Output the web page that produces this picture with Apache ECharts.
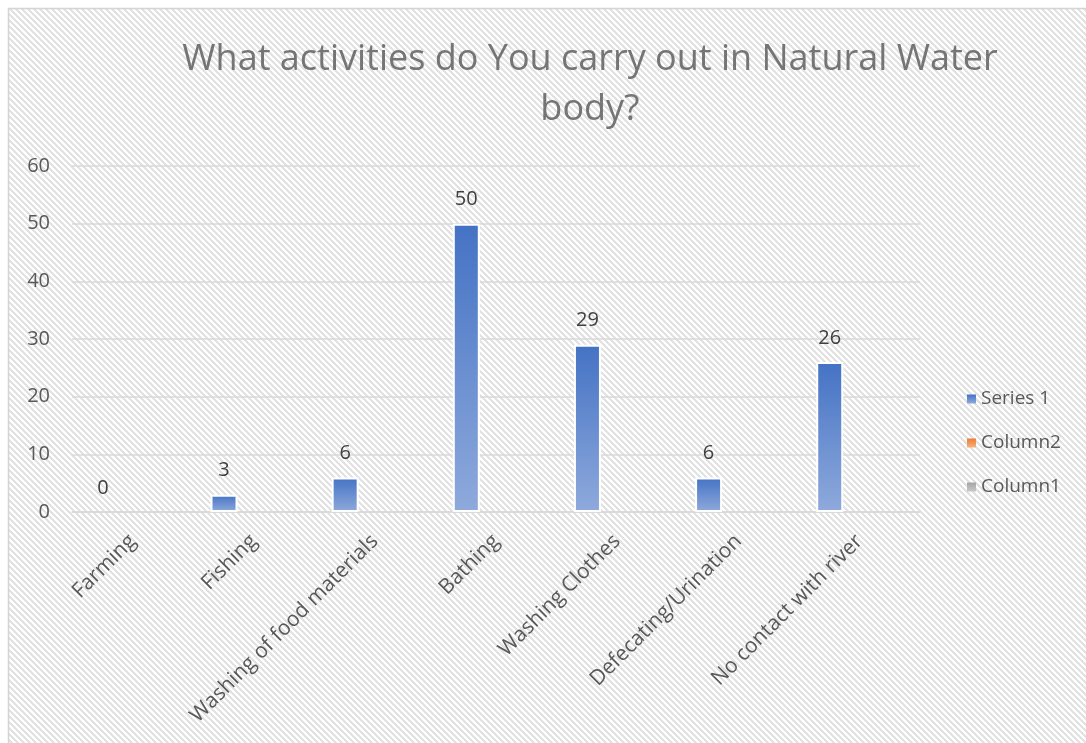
<!DOCTYPE html>
<html>
<head>
<meta charset="utf-8">
<script src="https://cdn.jsdelivr.net/npm/echarts@6/dist/echarts.min.js"></script>
<style>
  html, body { margin: 0; padding: 0; background: #ffffff; }
  #chart { width: 1086px; height: 743px; }
</style>
</head>
<body>
<div id="chart"></div>
<script>
// Chart content
const titleText = 'What activities do You carry out in Natural Water\nbody?';
const categories = [
  'Farming',
  'Fishing',
  'Washing of food materials',
  'Bathing',
  'Washing Clothes',
  'Defecating/Urination',
  'No contact with river'
];
const series1 = [0, 3, 6, 50, 29, 6, 26];
const column2 = [null, null, null, null, null, null, null];
const column1 = [null, null, null, null, null, null, null];
const seriesNames = ['Series 1', 'Column2', 'Column1'];
const yMin = 0, yMax = 60, yStep = 10;

const FONT = "'Open Sans', 'Noto Sans', sans-serif";

// Small tile for the diagonal hatch fill of the chart area
function hatchTile() {
  const size = 6;
  const c = document.createElement('canvas');
  c.width = size; c.height = size;
  const ctx = c.getContext('2d');
  ctx.fillStyle = '#ffffff';
  ctx.fillRect(0, 0, size, size);
  ctx.fillStyle = '#e2e2e2';
  for (let y = 0; y < size; y++) {
    for (let x = 0; x < size; x++) {
      if ((((x - y) % size) + size) % size < 3) ctx.fillRect(x, y, 1, 1);
    }
  }
  return c;
}

function vGrad(top, bottom) {
  return new echarts.graphic.LinearGradient(0, 0, 0, 1, [
    { offset: 0, color: top },
    { offset: 1, color: bottom }
  ]);
}

// A zero-height bar gets no white outline
function withoutZeroOutline(values) {
  return values.map(v => (v === 0 ? { value: v, itemStyle: { borderWidth: 0 } } : v));
}

const chart = echarts.init(document.getElementById('chart'), null, { renderer: 'canvas' });

const barBase = {
  type: 'bar',
  barWidth: 27,
  barGap: '10%'
};

chart.setOption({
  animation: false,
  backgroundColor: { image: hatchTile(), repeat: 'repeat' },
  textStyle: { fontFamily: FONT },
  title: {
    text: titleText,
    left: 585,
    top: 30,
    textAlign: 'center',
    textStyle: {
      fontFamily: FONT,
      fontSize: 36,
      fontWeight: 'normal',
      color: '#757575',
      lineHeight: 50
    }
  },
  legend: {
    orient: 'vertical',
    left: 962,
    top: 384,
    icon: 'rect',
    itemWidth: 9,
    itemHeight: 9,
    itemGap: 24,
    itemStyle: { borderWidth: 0 },
    textStyle: { fontFamily: FONT, fontSize: 19, color: '#595959', lineHeight: 20 },
    data: seriesNames
  },
  grid: { left: 72, right: 166, top: 166, bottom: 231 },
  xAxis: {
    type: 'category',
    data: categories,
    axisLine: { lineStyle: { color: '#d9d9d9', width: 1.5 } },
    axisTick: { show: false },
    axisLabel: {
      interval: 0,
      rotate: 45,
      margin: 26,
      fontFamily: FONT,
      fontSize: 21,
      color: '#595959'
    }
  },
  yAxis: {
    type: 'value',
    min: yMin,
    max: yMax,
    interval: yStep,
    axisLine: { show: false },
    axisTick: { show: false },
    splitLine: { lineStyle: { color: '#d9d9d9', width: 1.5 } },
    axisLabel: { margin: 22, fontFamily: FONT, fontSize: 20, color: '#595959' }
  },
  series: [
    Object.assign({}, barBase, {
      name: seriesNames[0],
      data: withoutZeroOutline(series1),
      itemStyle: { color: vGrad('#4472c4', '#8faadc'), borderColor: '#ffffff', borderWidth: 2 },
      label: {
        show: true,
        position: 'top',
        distance: 14,
        fontFamily: FONT,
        fontSize: 20,
        color: '#404040'
      }
    }),
    Object.assign({}, barBase, {
      name: seriesNames[1],
      data: column2,
      itemStyle: { color: vGrad('#ed7d31', '#f4b183'), borderColor: '#ffffff', borderWidth: 2 }
    }),
    Object.assign({}, barBase, {
      name: seriesNames[2],
      data: column1,
      itemStyle: { color: vGrad('#a5a5a5', '#c9c9c9'), borderColor: '#ffffff', borderWidth: 2 }
    })
  ],
  graphic: [
    { type: 'rect', silent: true, shape: { x: 0, y: 0, width: 1086, height: 8 }, style: { fill: '#ffffff' } },
    { type: 'rect', silent: true, shape: { x: 0, y: 0, width: 8, height: 743 }, style: { fill: '#ffffff' } },
    {
      type: 'polyline', silent: true,
      shape: { points: [[8.5, 743], [8.5, 8.5], [1086, 8.5]] },
      style: { stroke: '#d4d4d4', lineWidth: 1.5, fill: null }
    }
  ]
});
</script>
</body>
</html>
